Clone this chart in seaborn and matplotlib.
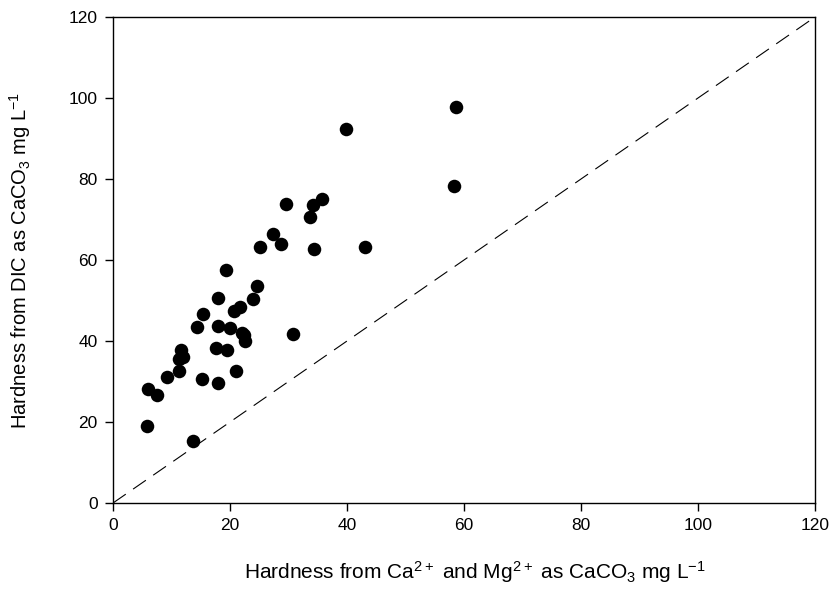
import pandas as pd
import numpy as np
import seaborn as sns
import matplotlib.pyplot as plt

# hardness from Ca2+ and Mg2+ (x) vs hardness from DIC (y), both as CaCO3 mg/L
ca_mg_hardness = [58.6, 39.8, 58.3, 35.8, 29.5, 34.2, 33.6, 27.3, 28.8, 25.1,
                  34.4, 43.1, 19.4, 24.7, 18.0, 23.9, 21.7, 20.7, 15.4, 14.3,
                  17.9, 20.0, 22.0, 22.4, 22.6, 30.7, 11.6, 12.0, 11.3, 17.6,
                  19.5, 11.2, 9.2, 15.3, 17.9, 21.0, 5.9, 7.6, 5.8, 13.7]
dic_hardness = [97.7, 92.3, 78.3, 75.1, 73.9, 73.5, 70.5, 66.3, 64.0, 63.1,
                62.6, 63.3, 57.5, 53.6, 50.5, 50.4, 48.3, 47.4, 46.6, 43.5,
                43.7, 43.1, 42.1, 41.5, 40.1, 41.8, 37.8, 36.1, 35.6, 38.3,
                37.8, 32.7, 31.2, 30.7, 29.6, 32.6, 28.1, 26.7, 19.1, 15.4]
one_to_one = [0, 120]
ticks = [0, 20, 40, 60, 80, 100, 120]

df = pd.DataFrame({"x": ca_mg_hardness, "y": dic_hardness})

sns.set_style("ticks")
plt.rcParams['font.family'] = ['Liberation Sans', 'DejaVu Sans']
plt.rcParams['mathtext.default'] = 'regular'
plt.rcParams['text.color'] = 'black'
plt.rcParams['axes.labelcolor'] = 'black'

fig = plt.figure(figsize=(8.32, 5.92), dpi=100)
ax = fig.add_axes([0.1358, 0.1503, 0.8438, 0.8210])

sns.lineplot(x=one_to_one, y=one_to_one, ax=ax, color="black", lw=0.8,
             linestyle=(0, (14, 8)))
sns.scatterplot(data=df, x="x", y="y", ax=ax, color="black", s=95,
                edgecolor="black", linewidth=0, zorder=3)

ax.set_xlim(0, 120)
ax.set_ylim(0, 120)
ax.set_xticks(ticks)
ax.set_yticks(ticks)
ax.tick_params(direction="out", length=6, width=1, labelsize=12.5,
               colors="black", pad=5)
for sp in ax.spines.values():
    sp.set_linewidth(1)
    sp.set_color("black")
    sp.set_visible(True)

ax.set_xlabel("Hardness from Ca$^{2+}$ and Mg$^{2+}$ as CaCO$_3$ mg L$^{-1}$",
              fontsize=15)
ax.set_ylabel("Hardness from DIC as CaCO$_3$ mg L$^{-1}$", fontsize=14.5)
ax.xaxis.set_label_coords(0.515, -0.115)
ax.yaxis.set_label_coords(-0.114, 0.5)

plt.savefig("out.png", format="png", dpi=100)
